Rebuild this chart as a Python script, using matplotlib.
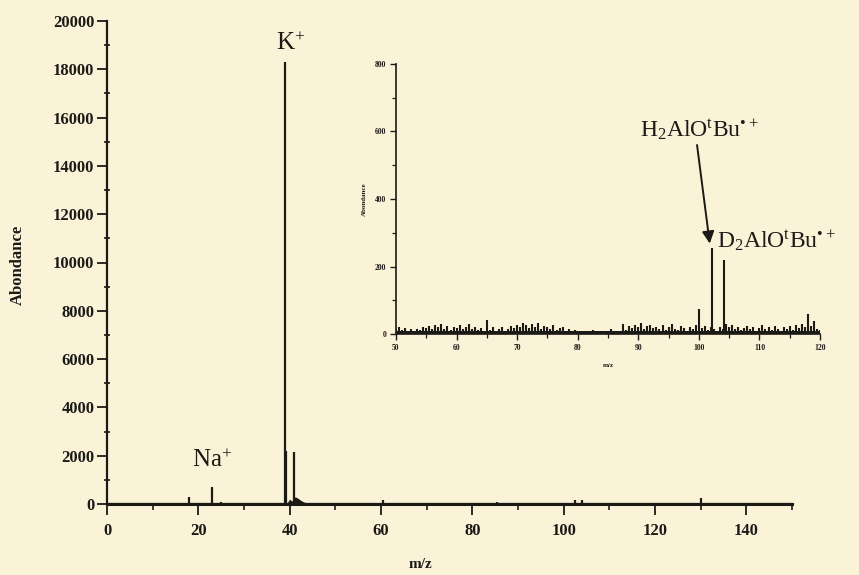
import numpy as np
import matplotlib
matplotlib.use("Agg")
import matplotlib.pyplot as plt
from matplotlib.ticker import MultipleLocator

plt.rcParams['font.family'] = ['Liberation Serif', 'DejaVu Serif']
plt.rcParams['mathtext.fontset'] = 'custom'
plt.rcParams['mathtext.rm'] = 'Liberation Serif'
plt.rcParams['mathtext.it'] = 'Liberation Serif:italic'
plt.rcParams['mathtext.bf'] = 'Liberation Serif:bold'

BG = '#FBF3D8'
INK = '#1c1a17'

# ---------------- data: main spectrum ----------------
main_peak_mz = [18, 23, 25, 39, 39.3, 41, 60.5, 73.5, 74.2, 85.5, 102.5, 104, 122, 130]
main_peak_ab = [300, 720, 80, 18300, 2200, 2150, 150, 60, 60, 80, 180, 150, 60, 250]
hump_mz = [39.5, 40, 40.5, 41.2, 41.8, 42.3, 42.8, 43.3, 44, 45]
hump_ab = [60, 200, 120, 300, 240, 170, 110, 70, 35, 0]

# ---------------- data: inset (m/z 50-120) ----------------
inset_mz = np.arange(50, 120.01, 0.5)
inset_noise = [
    15, 20, 12, 18, 10, 14, 8, 16, 12, 20,
    18, 25, 14, 28, 20, 30, 16, 25, 12, 22,
    18, 26, 14, 20, 30, 15, 22, 12, 18, 10,
    42, 12, 20, 8, 16, 22, 10, 14, 24, 18,
    28, 20, 32, 26, 18, 30, 22, 34, 16, 24,
    20, 14, 26, 12, 18, 22, 10, 15, 8, 12,
    6, 8, 5, 10, 6, 12, 5, 7, 4, 8,
    6, 14, 5, 9, 6, 30, 12, 24, 18, 26,
    20, 32, 16, 24, 28, 18, 22, 14, 26, 12,
    20, 30, 16, 12, 24, 18, 10, 22, 14, 26,
    74, 18, 24, 12, 20, 16, 10, 22, 14, 30,
    20, 26, 16, 22, 12, 18, 24, 14, 20, 10,
    18, 26, 14, 20, 12, 24, 16, 10, 22, 14,
    24, 12, 28, 18, 30, 20, 60, 24, 40, 16,
    12]
inset_peak_mz = [102.1, 104.2]
inset_peak_ab = [255, 220]

fig = plt.figure(figsize=(8.59, 5.75), dpi=100, facecolor=BG)

# ---------------- main axes ----------------
ax = fig.add_axes([107/859, 1-504/575, 685/859, 483/575])
ax.set_facecolor(BG)
ax.set_xlim(0, 150)
ax.set_ylim(0, 20000)
for s in ['top', 'right']:
    ax.spines[s].set_visible(False)
for s in ['left', 'bottom']:
    ax.spines[s].set_color(INK)
    ax.spines[s].set_linewidth(1.6)
ax.xaxis.set_major_locator(MultipleLocator(20))
ax.xaxis.set_minor_locator(MultipleLocator(10))
ax.yaxis.set_major_locator(MultipleLocator(2000))
ax.yaxis.set_minor_locator(MultipleLocator(1000))
ax.tick_params(axis='x', which='major', direction='out', length=8, width=1.3,
               colors=INK, labelsize=12, pad=6)
ax.tick_params(axis='x', which='minor', direction='out', length=4, width=1.2, colors=INK)
ax.tick_params(axis='y', which='major', direction='out', length=7, width=1.3,
               colors=INK, labelsize=12, pad=2)
ax.tick_params(axis='y', which='minor', direction='inout', length=5, width=1.2, colors=INK)
ax.set_xticks(np.arange(0, 141, 20))
for lab in ax.get_xticklabels() + ax.get_yticklabels():
    lab.set_fontweight('bold')
    lab.set_color(INK)

ax.plot([0, 150], [0, 0], color=INK, lw=2.2, clip_on=False)
ax.vlines(main_peak_mz, 0, main_peak_ab, color=INK, lw=1.6)
ax.fill_between(hump_mz, 0, hump_ab, color=INK, lw=0)

ax.text(40.3, 18800, 'K$^{+}$', fontsize=18, ha='center', va='baseline', color=INK)
ax.text(23, 1530, 'Na$^{+}$', fontsize=18, ha='center', va='baseline', color=INK)

fig.text(18/859, 1-265/575, 'Abondance', rotation=90, ha='center', va='center',
         fontsize=12, fontweight='bold', color=INK)
fig.text(420/859, 1-565/575, 'm/z', ha='center', va='center', fontsize=11,
         fontweight='bold', color=INK)

# ---------------- inset ----------------
ins = fig.add_axes([396/859, 1-334/575, 424/859, 270/575])
ins.patch.set_alpha(0)
ins.set_xlim(50, 120)
ins.set_ylim(0, 800)
for s in ['top', 'right']:
    ins.spines[s].set_visible(False)
for s in ['left', 'bottom']:
    ins.spines[s].set_color(INK)
    ins.spines[s].set_linewidth(1.2)
ins.xaxis.set_major_locator(MultipleLocator(10))
ins.xaxis.set_minor_locator(MultipleLocator(5))
ins.yaxis.set_major_locator(MultipleLocator(200))
ins.yaxis.set_minor_locator(MultipleLocator(100))
ins.tick_params(axis='both', which='major', direction='out', length=4, width=1.0,
                colors=INK, labelsize=5.5, pad=3)
ins.tick_params(axis='both', which='minor', direction='out', length=3, width=0.9, colors=INK)
for lab in ins.get_xticklabels() + ins.get_yticklabels():
    lab.set_fontweight('bold')

ins.fill_between([50, 120], 0, 9, color=INK, lw=0)
ins.vlines(inset_mz, 0, inset_noise, color=INK, lw=1.5)
ins.vlines(inset_peak_mz, 0, inset_peak_ab, color=INK, lw=1.5)

ins.set_ylabel('Abondance', fontsize=5, fontweight='bold', color=INK, labelpad=6)
ins.set_xlabel('m/z', fontsize=5, fontweight='bold', color=INK, labelpad=8)

ins.text(90.3, 584, 'H$_2$AlO$^{\\mathrm{t}}$Bu$^{\u2022+}$', fontsize=17,
         ha='left', va='baseline', color=INK)
ins.text(103.0, 255, 'D$_2$AlO$^{\\mathrm{t}}$Bu$^{\u2022+}$', fontsize=17,
         ha='left', va='baseline', color=INK, clip_on=False)
ins.annotate('', xy=(101.8, 268), xytext=(99.7, 560),
             arrowprops=dict(arrowstyle='-|>', mutation_scale=18, lw=1.4,
                             color=INK, shrinkA=0, shrinkB=0))

fig.savefig('out.png', dpi=100, facecolor=BG)
